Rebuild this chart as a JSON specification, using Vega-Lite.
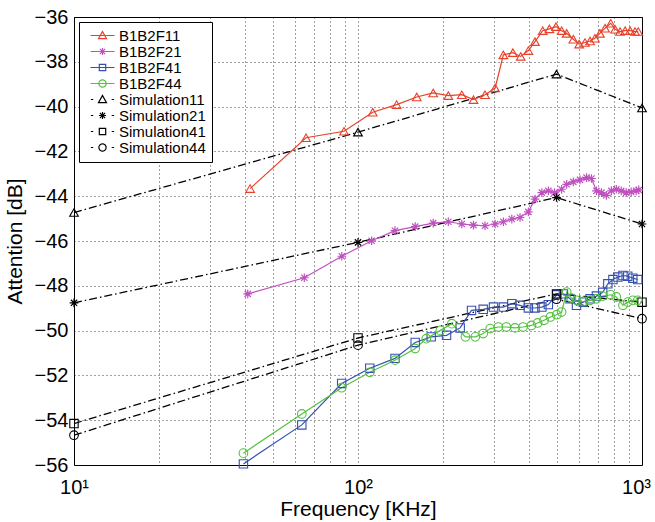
{
  "$schema": "https://vega.github.io/schema/vega-lite/v6.json",
  "autosize": {"type": "none"},
  "width": 568,
  "height": 448,
  "padding": {"left": 74, "top": 17, "right": 13, "bottom": 57},
  "background": "white",
  "data": {"values": [
      {"series":"B1B2F11","freq":41.7,"db":-43.66},{"series":"B1B2F11","freq":65.6,"db":-41.39},{"series":"B1B2F11","freq":89.3,"db":-41.1},{"series":"B1B2F11","freq":112.7,"db":-40.25},{"series":"B1B2F11","freq":136.8,"db":-39.91},{"series":"B1B2F11","freq":161,"db":-39.57},{"series":"B1B2F11","freq":184,"db":-39.39},{"series":"B1B2F11","freq":208,"db":-39.51},{"series":"B1B2F11","freq":232,"db":-39.47},{"series":"B1B2F11","freq":255,"db":-39.69},{"series":"B1B2F11","freq":280,"db":-39.47},{"series":"B1B2F11","freq":304,"db":-39.17},{"series":"B1B2F11","freq":325,"db":-37.69},{"series":"B1B2F11","freq":351,"db":-37.59},{"series":"B1B2F11","freq":374,"db":-37.76},{"series":"B1B2F11","freq":398,"db":-37.5},{"series":"B1B2F11","freq":420,"db":-37.1},{"series":"B1B2F11","freq":447,"db":-36.61},{"series":"B1B2F11","freq":472,"db":-36.53},{"series":"B1B2F11","freq":498,"db":-36.43},{"series":"B1B2F11","freq":521,"db":-36.61},{"series":"B1B2F11","freq":543,"db":-36.73},{"series":"B1B2F11","freq":573,"db":-36.99},{"series":"B1B2F11","freq":601,"db":-37.21},{"series":"B1B2F11","freq":630,"db":-37.14},{"series":"B1B2F11","freq":656,"db":-37.07},{"series":"B1B2F11","freq":683,"db":-36.95},{"series":"B1B2F11","freq":711,"db":-36.73},{"series":"B1B2F11","freq":741,"db":-36.5},{"series":"B1B2F11","freq":776,"db":-36.28},{"series":"B1B2F11","freq":804,"db":-36.55},{"series":"B1B2F11","freq":837,"db":-36.65},{"series":"B1B2F11","freq":872,"db":-36.61},{"series":"B1B2F11","freq":908,"db":-36.61},{"series":"B1B2F11","freq":945,"db":-36.65},{"series":"B1B2F11","freq":970,"db":-36.65},
      {"series":"B1B2F21","freq":40.9,"db":-48.36},{"series":"B1B2F21","freq":64.7,"db":-47.64},{"series":"B1B2F21","freq":87.7,"db":-46.68},{"series":"B1B2F21","freq":111.7,"db":-45.99},{"series":"B1B2F21","freq":135,"db":-45.54},{"series":"B1B2F21","freq":159,"db":-45.36},{"series":"B1B2F21","freq":184,"db":-45.2},{"series":"B1B2F21","freq":208,"db":-45.14},{"series":"B1B2F21","freq":232,"db":-45.24},{"series":"B1B2F21","freq":255,"db":-45.29},{"series":"B1B2F21","freq":280,"db":-45.32},{"series":"B1B2F21","freq":304,"db":-45.24},{"series":"B1B2F21","freq":325,"db":-45.14},{"series":"B1B2F21","freq":348,"db":-45.02},{"series":"B1B2F21","freq":372,"db":-44.95},{"series":"B1B2F21","freq":398,"db":-44.7},{"series":"B1B2F21","freq":420,"db":-44.13},{"series":"B1B2F21","freq":444,"db":-43.84},{"series":"B1B2F21","freq":468,"db":-43.76},{"series":"B1B2F21","freq":492,"db":-43.84},{"series":"B1B2F21","freq":521,"db":-43.69},{"series":"B1B2F21","freq":543,"db":-43.47},{"series":"B1B2F21","freq":573,"db":-43.36},{"series":"B1B2F21","freq":605,"db":-43.27},{"series":"B1B2F21","freq":638,"db":-43.17},{"series":"B1B2F21","freq":664,"db":-43.21},{"series":"B1B2F21","freq":691,"db":-43.76},{"series":"B1B2F21","freq":720,"db":-43.84},{"series":"B1B2F21","freq":749,"db":-43.96},{"series":"B1B2F21","freq":780,"db":-43.76},{"series":"B1B2F21","freq":812,"db":-43.69},{"series":"B1B2F21","freq":845,"db":-43.76},{"series":"B1B2F21","freq":880,"db":-43.84},{"series":"B1B2F21","freq":916,"db":-43.81},{"series":"B1B2F21","freq":954,"db":-43.76},{"series":"B1B2F21","freq":974,"db":-43.72},
      {"series":"B1B2F41","freq":39.5,"db":-55.95},{"series":"B1B2F41","freq":63.4,"db":-54.21},{"series":"B1B2F41","freq":87.6,"db":-52.36},{"series":"B1B2F41","freq":110,"db":-51.68},{"series":"B1B2F41","freq":135,"db":-51.24},{"series":"B1B2F41","freq":159,"db":-50.53},{"series":"B1B2F41","freq":181,"db":-50.28},{"series":"B1B2F41","freq":205,"db":-50.21},{"series":"B1B2F41","freq":229,"db":-49.88},{"series":"B1B2F41","freq":251,"db":-49.1},{"series":"B1B2F41","freq":276,"db":-49.05},{"series":"B1B2F41","freq":300,"db":-48.95},{"series":"B1B2F41","freq":325,"db":-48.95},{"series":"B1B2F41","freq":348,"db":-48.8},{"series":"B1B2F41","freq":372,"db":-48.87},{"series":"B1B2F41","freq":398,"db":-48.99},{"series":"B1B2F41","freq":420,"db":-48.99},{"series":"B1B2F41","freq":444,"db":-48.95},{"series":"B1B2F41","freq":468,"db":-48.84},{"series":"B1B2F41","freq":501,"db":-48.4},{"series":"B1B2F41","freq":529,"db":-48.36},{"series":"B1B2F41","freq":558,"db":-48.58},{"series":"B1B2F41","freq":588,"db":-48.87},{"series":"B1B2F41","freq":621,"db":-48.73},{"series":"B1B2F41","freq":656,"db":-48.58},{"series":"B1B2F41","freq":691,"db":-48.46},{"series":"B1B2F41","freq":727,"db":-48.29},{"series":"B1B2F41","freq":758,"db":-47.91},{"series":"B1B2F41","freq":790,"db":-47.72},{"series":"B1B2F41","freq":822,"db":-47.61},{"series":"B1B2F41","freq":857,"db":-47.54},{"series":"B1B2F41","freq":891,"db":-47.57},{"series":"B1B2F41","freq":928,"db":-47.66},{"series":"B1B2F41","freq":966,"db":-47.72},
      {"series":"B1B2F44","freq":39.5,"db":-55.47},{"series":"B1B2F44","freq":63.4,"db":-53.72},{"series":"B1B2F44","freq":87.6,"db":-52.55},{"series":"B1B2F44","freq":110,"db":-51.86},{"series":"B1B2F44","freq":135,"db":-51.32},{"series":"B1B2F44","freq":159,"db":-50.8},{"series":"B1B2F44","freq":174,"db":-50.36},{"series":"B1B2F44","freq":195,"db":-49.99},{"series":"B1B2F44","freq":214,"db":-49.69},{"series":"B1B2F44","freq":239,"db":-50.28},{"series":"B1B2F44","freq":259,"db":-50.28},{"series":"B1B2F44","freq":276,"db":-50.13},{"series":"B1B2F44","freq":292,"db":-49.91},{"series":"B1B2F44","freq":312,"db":-49.84},{"series":"B1B2F44","freq":333,"db":-49.84},{"series":"B1B2F44","freq":357,"db":-49.88},{"series":"B1B2F44","freq":381,"db":-49.84},{"series":"B1B2F44","freq":408,"db":-49.77},{"series":"B1B2F44","freq":429,"db":-49.66},{"series":"B1B2F44","freq":452,"db":-49.54},{"series":"B1B2F44","freq":476,"db":-49.39},{"series":"B1B2F44","freq":501,"db":-49.29},{"series":"B1B2F44","freq":521,"db":-49.17},{"series":"B1B2F44","freq":543,"db":-48.28},{"series":"B1B2F44","freq":564,"db":-48.55},{"series":"B1B2F44","freq":588,"db":-48.65},{"series":"B1B2F44","freq":621,"db":-48.7},{"series":"B1B2F44","freq":656,"db":-48.65},{"series":"B1B2F44","freq":691,"db":-48.58},{"series":"B1B2F44","freq":727,"db":-48.46},{"series":"B1B2F44","freq":775,"db":-48.4},{"series":"B1B2F44","freq":812,"db":-48.5},{"series":"B1B2F44","freq":857,"db":-48.87},{"series":"B1B2F44","freq":891,"db":-48.73},{"series":"B1B2F44","freq":928,"db":-48.65},{"series":"B1B2F44","freq":966,"db":-48.65},
      {"series":"Simulation11","freq":10,"db":-44.73},{"series":"Simulation11","freq":100,"db":-41.14},{"series":"Simulation11","freq":500,"db":-38.55},{"series":"Simulation11","freq":1000,"db":-40.06},
      {"series":"Simulation21","freq":10,"db":-48.76},{"series":"Simulation21","freq":100,"db":-46.06},{"series":"Simulation21","freq":500,"db":-44.06},{"series":"Simulation21","freq":1000,"db":-45.24},
      {"series":"Simulation41","freq":10,"db":-54.15},{"series":"Simulation41","freq":100,"db":-50.33},{"series":"Simulation41","freq":500,"db":-48.36},{"series":"Simulation41","freq":1000,"db":-48.73},
      {"series":"Simulation44","freq":10,"db":-54.67},{"series":"Simulation44","freq":100,"db":-50.65},{"series":"Simulation44","freq":500,"db":-48.6},{"series":"Simulation44","freq":1000,"db":-49.47}
  ]},
  "encoding": {
    "x": {
      "field": "freq", "type": "quantitative",
      "scale": {"type": "log", "domain": [10, 1000], "nice": false},
      "axis": {
        "title": "Frequency [KHz]",
        "values": [10,20,30,40,50,60,70,80,90,100,200,300,400,500,600,700,800,900,1000],
        "labelExpr": "datum.value == 10 ? '10¹' : datum.value == 100 ? '10²' : datum.value == 1000 ? '10³' : ''",
        "labelOverlap": false, "labelFlush": false,
        "labelOffset": {"expr": "datum.value == 1000 ? -6 : 0"},
        "labelPadding": 12, "titlePadding": 1
      }
    },
    "y": {
      "field": "db", "type": "quantitative",
      "scale": {"domain": [-56, -36], "nice": false},
      "axis": {
        "title": "Attention [dB]",
        "values": [-56,-54,-52,-50,-48,-46,-44,-42,-40,-38,-36],
        "labelPadding": 6, "titlePadding": 9
      }
    },
    "color": {
      "field": "series", "type": "nominal",
      "scale": {
        "domain": ["B1B2F11","B1B2F21","B1B2F41","B1B2F44","Simulation11","Simulation21","Simulation41","Simulation44"],
        "range": ["#e8402a","#c050c0","#3550b0","#55c040","#000000","#000000","#000000","#000000"]
      },
      "legend": {
        "title": null,
        "orient": "top-left",
        "offset": 5,
        "padding": 6,
        "fillColor": "white",
        "strokeColor": "black",
        "cornerRadius": 0,
        "labelFont": "Liberation Sans",
        "labelFontSize": 15,
        "labelColor": "black",
        "symbolSize": 64,
        "symbolOffset": 10,
        "labelOffset": 9,
        "rowPadding": 0,
        "encode": {
          "symbols": {
            "update": {
              "shape": {"signal": "datum.value == 'B1B2F11' ? 'M-3,0H3M0,-1L1,0.8L-1,0.8Z' : datum.value == 'B1B2F21' ? 'M-3,0H3M-0.9,0H0.9M0,-0.9V0.9M-0.65,-0.65L0.65,0.65M-0.65,0.65L0.65,-0.65' : datum.value == 'B1B2F41' ? 'M-3,0H3M-0.8,-0.8H0.8V0.8H-0.8Z' : datum.value == 'B1B2F44' ? 'M-3,0H3M-0.9,0A0.9,0.9 0 1,0 0.9,0A0.9,0.9 0 1,0 -0.9,0Z' : datum.value == 'Simulation11' ? 'M-2.9,0H-2.3M2.3,0H2.9M0,-1L1,0.8L-1,0.8Z' : datum.value == 'Simulation21' ? 'M-2.9,0H-2.3M2.3,0H2.9M-0.9,0H0.9M0,-0.9V0.9M-0.65,-0.65L0.65,0.65M-0.65,0.65L0.65,-0.65' : datum.value == 'Simulation41' ? 'M-2.9,0H-2.3M2.3,0H2.9M-0.8,-0.8H0.8V0.8H-0.8Z' : 'M-2.9,0H-2.3M2.3,0H2.9M-0.9,0A0.9,0.9 0 1,0 0.9,0A0.9,0.9 0 1,0 -0.9,0Z'"},
              "fill": {"value": "transparent"},
              "stroke": {"scale": "color", "field": "value"},
              "strokeWidth": {"value": 1.2},
              "strokeDash": {"value": [1, 0]},
              "size": {"value": 64},
              "opacity": {"value": 1}
            }
          }
        }
      }
    }
  },
  "layer": [
    {
      "transform": [{"filter": "indexof(datum.series, 'Sim') == 0"}],
      "mark": {"type": "line", "strokeWidth": 1.3, "strokeDash": [8, 3, 1.5, 3]},
      "encoding": {"detail": {"field": "series"}}
    },
    {
      "transform": [{"filter": "indexof(datum.series, 'B1B2') == 0"}],
      "mark": {"type": "line", "strokeWidth": 1.2},
      "encoding": {"detail": {"field": "series"}}
    },
    {
      "transform": [{"filter": "datum.series == 'B1B2F11' || datum.series == 'Simulation11'"}],
      "mark": {"type": "point", "shape": "triangle-up", "filled": false, "strokeWidth": 1.1, "opacity": 1, "size": 75}
    },
    {
      "transform": [{"filter": "datum.series == 'B1B2F21' || datum.series == 'Simulation21'"}],
      "mark": {"type": "point", "shape": "M-1,0H1M0,-1V1M-0.72,-0.72L0.72,0.72M-0.72,0.72L0.72,-0.72", "filled": false, "strokeWidth": 1.2, "opacity": 1, "size": 75}
    },
    {
      "transform": [{"filter": "datum.series == 'B1B2F41' || datum.series == 'Simulation41'"}],
      "mark": {"type": "point", "shape": "square", "filled": false, "strokeWidth": 1.1, "opacity": 1, "size": 70}
    },
    {
      "transform": [{"filter": "datum.series == 'B1B2F44' || datum.series == 'Simulation44'"}],
      "mark": {"type": "point", "shape": "circle", "filled": false, "strokeWidth": 1.1, "opacity": 1, "size": 75}
    }
  ],
  "config": {
    "view": {"stroke": "black", "strokeWidth": 1},
    "axis": {
      "labelFont": "Liberation Sans",
      "titleFont": "Liberation Sans",
      "labelFontSize": 20,
      "titleFontSize": 21,
      "titleFontWeight": "normal",
      "labelColor": "black",
      "titleColor": "black",
      "gridColor": "black",
      "gridDash": [1, 3],
      "gridOpacity": 0.75,
      "domain": false,
      "ticks": false
    }
  }
}
